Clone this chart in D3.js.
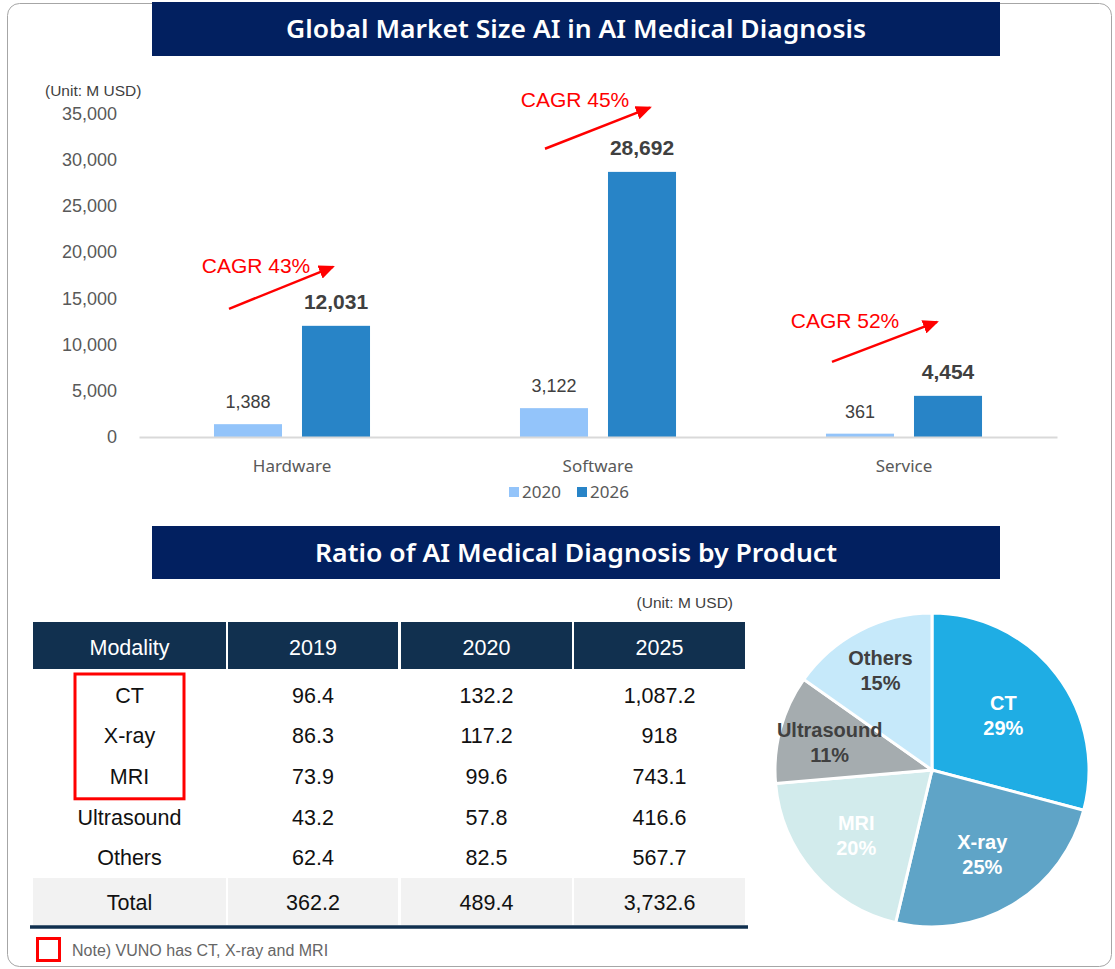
<!DOCTYPE html>
<html>
<head>
<meta charset="utf-8">
<script src="https://cdn.jsdelivr.net/npm/d3@7"></script>
<style>
  html, body { margin: 0; padding: 0; background: #fff; }
  svg { display: block; }
  .sans { font-family: "Liberation Sans", Arial, sans-serif; }
  .ui { font-family: "Noto Sans", "Open Sans", sans-serif; }
</style>
</head>
<body>
<div id="chart"></div>
<script>
// ---- bar chart data ----
const categories = ['Hardware', 'Software', 'Service'];
const years = ['2020', '2026'];
const values2020 = [1388, 3122, 361];
const values2026 = [12031, 28692, 4454];
const cagrLabels = ['CAGR 43%', 'CAGR 45%', 'CAGR 52%'];
const yTicks = [0, 5000, 10000, 15000, 20000, 25000, 30000, 35000];

// ---- table / pie data ----
const modalities = ['CT', 'X-ray', 'MRI', 'Ultrasound', 'Others'];
const tableYears = ['2019', '2020', '2025'];
const v2019 = [96.4, 86.3, 73.9, 43.2, 62.4];
const v2020 = [132.2, 117.2, 99.6, 57.8, 82.5];
const v2025 = [1087.2, 918, 743.1, 416.6, 567.7];
const totals = [362.2, 489.4, 3732.6];
const vunoModalities = ['CT', 'X-ray', 'MRI'];

const W = 1115, H = 969;
const NAVY = '#022060', HEAD = '#11304f';
const svg = d3.select('#chart').append('svg').attr('width', W).attr('height', H);

// outer frame
svg.append('rect').attr('x', 7.5).attr('y', 3.5).attr('width', 1104).attr('height', 963)
  .attr('rx', 12).attr('fill', 'none').attr('stroke', '#a6a6a6').attr('stroke-width', 1);

function titleBar(y, h, text, len) {
  svg.append('rect').attr('x', 152).attr('y', y).attr('width', 848).attr('height', h).attr('fill', NAVY);
  svg.append('text').attr('class', 'ui').attr('x', 576).attr('y', y + h / 2).attr('dy', '0.36em')
    .attr('text-anchor', 'middle').attr('fill', '#fff').style('font-size', '26px').style('font-weight', 600)
    .attr('textLength', len).attr('lengthAdjust', 'spacingAndGlyphs').text(text);
}
titleBar(2, 54, 'Global Market Size AI in AI Medical Diagnosis', 580);
titleBar(526, 53, 'Ratio of AI Medical Diagnosis by Product', 522);

// ================= bar chart =================
const M = { left: 139, right: 1057, top: 113.6, bottom: 437 };
const x = d3.scaleBand().domain(categories).range([M.left, M.right]).paddingInner(0).paddingOuter(0);
const xs = d3.scaleBand().domain(years).range([0, x.bandwidth()]).paddingInner(0.227).paddingOuter(0.852);
const y = d3.scaleLinear().domain([0, 35000]).range([M.bottom, M.top]);
const barColor = { '2020': '#93c4fa', '2026': '#2884c7' };

svg.append('text').attr('class', 'sans').attr('x', 45).attr('y', 96).attr('fill', '#404040')
  .style('font-size', '15.5px').text('(Unit: M USD)');

const yAxis = svg.append('g').attr('class', 'sans').attr('transform', `translate(${M.left},0)`)
  .call(d3.axisLeft(y).tickValues(yTicks).tickSize(0).tickPadding(22).tickFormat(d3.format(',')));
yAxis.select('.domain').remove();
yAxis.selectAll('text').attr('fill', '#595959').style('font-size', '18px').attr('font-family', null);

const rows = categories.map((c, i) => ({ cat: c, vals: [values2020[i], values2026[i]] }));
const groups = svg.selectAll('.grp').data(rows).join('g').attr('class', 'grp')
  .attr('transform', d => `translate(${x(d.cat)},0)`);
groups.selectAll('rect').data(d => d.vals.map((v, j) => ({ year: years[j], v })))
  .join('rect')
  .attr('x', d => xs(d.year)).attr('width', xs.bandwidth())
  .attr('y', d => y(d.v)).attr('height', d => y(0) - y(d.v))
  .attr('fill', d => barColor[d.year]);
groups.selectAll('text.val').data(d => d.vals.map((v, j) => ({ year: years[j], v })))
  .join('text').attr('class', 'val sans')
  .attr('x', d => xs(d.year) + xs.bandwidth() / 2)
  .attr('y', d => y(d.v) - (d.year === '2026' ? 17 : 16))
  .attr('text-anchor', 'middle').attr('fill', '#404040')
  .style('font-size', d => d.year === '2026' ? '21px' : '18px')
  .style('font-weight', d => d.year === '2026' ? 700 : 400)
  .text(d => d3.format(',')(d.v));

// x axis
const xAxis = svg.append('g').attr('class', 'ui').attr('transform', `translate(0,${M.bottom})`)
  .call(d3.axisBottom(x).tickSize(0).tickPadding(23));
xAxis.select('.domain').attr('stroke', '#d9d9d9').attr('stroke-width', 2);
xAxis.selectAll('text').attr('fill', '#595959').style('font-size', '17px').attr('font-family', null);

// legend
const leg = svg.append('g').attr('class', 'ui').attr('transform', 'translate(509,492)');
years.forEach((yr, i) => {
  const g = leg.append('g').attr('transform', `translate(${i * 68},0)`);
  g.append('rect').attr('x', 0).attr('y', -5).attr('width', 10).attr('height', 10).attr('fill', barColor[yr]);
  g.append('text').attr('x', 13).attr('dy', '0.35em').attr('fill', '#595959').style('font-size', '17px').text(yr);
});

// CAGR arrows (offsets from category centre, in data units on y)
const cagrPos = [
  { dx1: -63, v1: 13870, dx2: 41, v2: 18420, tx: -36, tv: 18500 },
  { dx1: -53, v1: 31200, dx2: 52, v2: 35650, tx: -23, tv: 36500 },
  { dx1: -72, v1: 8130, dx2: 33, v2: 12460, tx: -59, tv: 12560 }
];
const defs = svg.append('defs');
defs.append('marker').attr('id', 'arr').attr('markerUnits', 'userSpaceOnUse')
  .attr('viewBox', '0 0 16 14').attr('refX', 14).attr('refY', 7)
  .attr('markerWidth', 16).attr('markerHeight', 14).attr('orient', 'auto')
  .append('path').attr('d', 'M0,0 L16,7 L0,14 Z').attr('fill', '#ff0000');
categories.forEach((c, i) => {
  const cx = x(c) + x.bandwidth() / 2, p = cagrPos[i];
  svg.append('line').attr('x1', cx + p.dx1).attr('y1', y(p.v1)).attr('x2', cx + p.dx2).attr('y2', y(p.v2))
    .attr('stroke', '#ff0000').attr('stroke-width', 2.5).attr('marker-end', 'url(#arr)');
  svg.append('text').attr('class', 'sans').attr('x', cx + p.tx).attr('y', y(p.tv)).attr('dy', '0.35em')
    .attr('text-anchor', 'middle').attr('fill', '#ff0000').style('font-size', '21px').text(cagrLabels[i]);
});

// ================= table =================
const fmt = d3.format(',');
svg.append('text').attr('class', 'sans').attr('x', 733).attr('y', 608).attr('text-anchor', 'end')
  .attr('fill', '#404040').style('font-size', '15.5px').text('(Unit: M USD)');

const colEdges = [[33, 226], [228, 398], [401, 572], [574, 745]];
const header = ['Modality'].concat(tableYears);
const colCx = colEdges.map(e => (e[0] + e[1]) / 2);
header.forEach((h, i) => {
  svg.append('rect').attr('x', colEdges[i][0]).attr('y', 622).attr('width', colEdges[i][1] - colEdges[i][0])
    .attr('height', 47).attr('fill', HEAD);
  svg.append('text').attr('class', 'sans').attr('x', colCx[i]).attr('y', 647).attr('dy', '0.35em')
    .attr('text-anchor', 'middle').attr('fill', '#fff').style('font-size', '21.5px').text(h);
});
const ry = d3.scaleBand().domain(modalities).range([675, 878]);
const tableRows = modalities.map((m, i) => [m, fmt(v2019[i]), fmt(v2020[i]), fmt(v2025[i])]);
tableRows.forEach((r, i) => {
  r.forEach((cell, j) => {
    svg.append('text').attr('class', 'sans').attr('x', colCx[j]).attr('y', ry(modalities[i]) + ry.bandwidth() / 2)
      .attr('dy', '0.35em').attr('text-anchor', 'middle').attr('fill', '#111').style('font-size', '21.5px').text(cell);
  });
});
['Total'].concat(totals.map(fmt)).forEach((cell, j) => {
  svg.append('rect').attr('x', colEdges[j][0]).attr('y', 878).attr('width', colEdges[j][1] - colEdges[j][0])
    .attr('height', 47).attr('fill', '#f2f2f2');
  svg.append('text').attr('class', 'sans').attr('x', colCx[j]).attr('y', 902).attr('dy', '0.35em')
    .attr('text-anchor', 'middle').attr('fill', '#111').style('font-size', '21.5px').text(cell);
});
svg.append('line').attr('x1', 30).attr('x2', 748).attr('y1', 927).attr('y2', 927)
  .attr('stroke', HEAD).attr('stroke-width', 3.5);

// VUNO highlight box
const vFirst = vunoModalities[0], vLast = vunoModalities[vunoModalities.length - 1];
svg.append('rect').attr('x', 75).attr('y', ry(vFirst) - 1)
  .attr('width', 109).attr('height', ry(vLast) + ry.bandwidth() - ry(vFirst) + 3)
  .attr('fill', 'none').attr('stroke', '#ff0000').attr('stroke-width', 3);
svg.append('rect').attr('x', 37.5).attr('y', 938.5).attr('width', 22).attr('height', 22)
  .attr('fill', 'none').attr('stroke', '#ff0000').attr('stroke-width', 3);
svg.append('text').attr('class', 'sans').attr('x', 72).attr('y', 950).attr('dy', '0.35em')
  .attr('fill', '#666').style('font-size', '16px').text('Note) VUNO has CT, X-ray and MRI');

// ================= pie =================
const pieColors = ['#1fade4', '#5fa4c7', '#d2ebec', '#a5acaf', '#c6e9fa'];
const pieText = ['#fff', '#fff', '#fff', '#404040', '#404040'];
const labelR = [90, 98, 100, 106, 112];
const total25 = d3.sum(v2025);
const R = 157;
const pie = d3.pie().sort(null).value(d => d)(v2025);
const arc = d3.arc().innerRadius(0).outerRadius(R);
const pg = svg.append('g').attr('transform', 'translate(932,770)');
pg.selectAll('path').data(pie).join('path').attr('d', arc)
  .attr('fill', (d, i) => pieColors[i]).attr('stroke', '#fff').attr('stroke-width', 3);
pie.forEach((d, i) => {
  const la = d3.arc().innerRadius(labelR[i]).outerRadius(labelR[i]);
  const [lx, ly] = la.centroid(d);
  const t = pg.append('text').attr('class', 'sans').attr('text-anchor', 'middle')
    .attr('fill', pieText[i]).style('font-size', '20px').style('font-weight', 700);
  t.append('tspan').attr('x', lx).attr('y', ly - 12.5).attr('dy', '0.35em').text(modalities[i]);
  t.append('tspan').attr('x', lx).attr('y', ly + 12.5).attr('dy', '0.35em')
    .text(Math.round(d.data / total25 * 100) + '%');
});
</script>
</body>
</html>
